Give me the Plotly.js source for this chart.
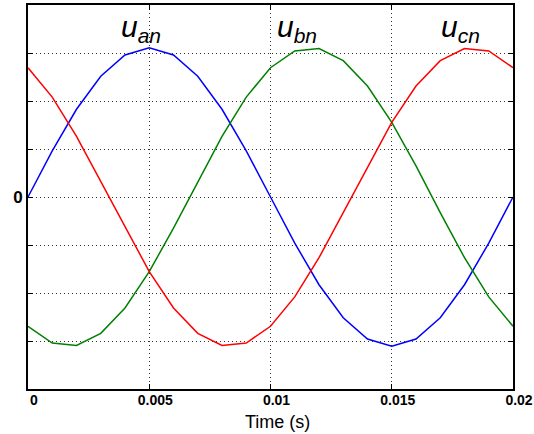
<!DOCTYPE html>
<html><head><meta charset="utf-8">
<script src="https://cdn.plot.ly/plotly-3.0.1.min.js"></script>
<style>html,body{margin:0;padding:0;background:#fff}#plot{width:534px;height:434px}</style>
</head><body><div id="plot"></div>
<script>
const time = [0,0.001,0.002,0.003,0.004,0.005,0.006,0.007,0.008,0.009,0.01,0.011,0.012,0.013,0.014,0.015,0.016,0.017,0.018,0.019,0.02];
const uan = [0,96.1,182.8,251.6,295.8,311,295.8,251.6,182.8,96.1,0,-96.1,-182.8,-251.6,-295.8,-311,-295.8,-251.6,-182.8,-96.1,0];
const ubn = [-269.3,-304.2,-309.3,-284.1,-231.1,-155.5,-64.7,32.5,126.5,208.1,269.3,304.2,309.3,284.1,231.1,155.5,64.7,-32.5,-126.5,-208.1,-269.3];
const ucn = [269.3,208.1,126.5,32.5,-64.7,-155.5,-231.1,-284.1,-309.3,-304.2,-269.3,-208.1,-126.5,-32.5,64.7,155.5,231.1,284.1,309.3,304.2,269.3];
const xTickVals = [0,0.005,0.01,0.015,0.02];
const xTickText = ['0','0.005','0.01','0.015','0.02'];
const yTickVals = [-300,-200,-100,0,100,200,300];
const yTickText = ['','','','0','','',''];
const seriesLabels = ['<i>u</i><sub><i>an</i></sub>','<i>u</i><sub><i>bn</i></sub>','<i>u</i><sub><i>cn</i></sub>'];

const mk = (y,c)=>({x:time,y:y,type:'scatter',mode:'lines',line:{color:c,width:1.5},hoverinfo:'skip'});
const data = [mk(uan,'#0000ff'), mk(ubn,'#008000'), mk(ucn,'#ff0000')];

const labelPos = [0.233,0.555,0.891];
const ann = seriesLabels.map((t,i)=>({text:t,xref:'paper',yref:'paper',x:labelPos[i],y:0.94,
  showarrow:false,font:{family:'Liberation Sans, Arial, sans-serif',size:30,color:'#000'},xanchor:'center',yanchor:'middle'}));
ann.push({text:'Time (s)',xref:'paper',yref:'paper',x:(277.5-28)/485,y:-(422-389)/384,showarrow:false,
  font:{family:'Liberation Sans, Arial, sans-serif',size:18,color:'#000'},xanchor:'center',yanchor:'middle'});

const layout = {
  width:534,height:434,margin:{l:28,r:21,t:5,b:45},
  paper_bgcolor:'#fff',plot_bgcolor:'#fff',showlegend:false,
  xaxis:{range:[0,0.02],tickvals:xTickVals,ticktext:xTickText,showgrid:true,gridcolor:'#333',griddash:'1px,3px',gridwidth:1,
    showline:true,linecolor:'#000',linewidth:2,mirror:'ticks',ticks:'inside',ticklen:5,tickcolor:'#000',tickwidth:1,
    zeroline:false,ticklabelshift:6,ticklabelstandoff:-3,
    tickfont:{family:'Liberation Sans, Arial, sans-serif',size:14,color:'#000',weight:'bold'}},
  yaxis:{range:[-400,400],tickvals:yTickVals,ticktext:yTickText,showgrid:true,gridcolor:'#333',griddash:'1px,3px',gridwidth:1,
    showline:true,linecolor:'#000',linewidth:2,mirror:'ticks',ticks:'inside',ticklen:5,tickcolor:'#000',tickwidth:1,
    zeroline:false,
    tickfont:{family:'Liberation Sans, Arial, sans-serif',size:17,color:'#000',weight:'bold'}},
  annotations:ann
};
Plotly.newPlot('plot',data,layout,{staticPlot:true,displayModeBar:false});
</script></body></html>
